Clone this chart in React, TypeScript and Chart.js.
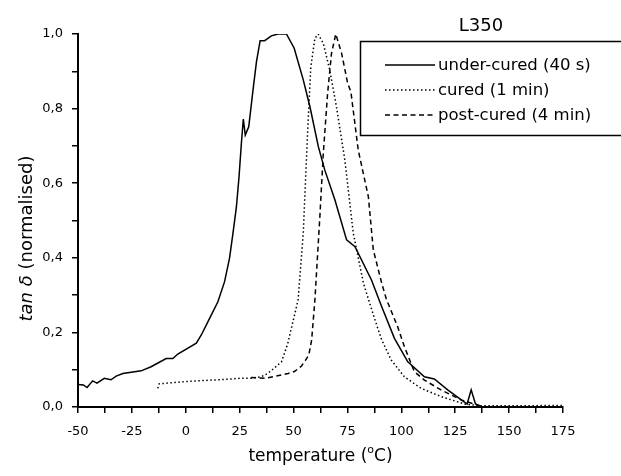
import React, { useEffect, useRef } from "react";
import { Chart, registerables } from "chart.js";

Chart.register(...registerables);

// ---- Data ----
const underCuredT = [-50, -47.5, -45.8, -43.2, -41.2, -37.8, -34.7, -32.3, -29.2, -20.7, -16.1, -9.1, -6, -3.7, 4.9, 7.2, 10.3, 14.9, 18, 20.3, 21.9, 23.5, 24.7, 25.8, 26.7, 27.6, 29.2, 31.2, 32.8, 34.5, 36.6, 39.7, 42.8, 46.7, 50.3, 54.5, 57.6, 61.5, 64.5, 69.2, 74.6, 78.5, 86.2, 90.9, 96.8, 103, 110.7, 115.3, 121.5, 130.5, 132.4, 134.4, 137.8, 147];
const underCuredV = [0.06, 0.059, 0.052, 0.07, 0.064, 0.077, 0.073, 0.083, 0.09, 0.097, 0.108, 0.13, 0.13, 0.142, 0.171, 0.193, 0.229, 0.282, 0.336, 0.399, 0.466, 0.537, 0.617, 0.707, 0.772, 0.729, 0.751, 0.85, 0.926, 0.982, 0.982, 0.995, 1.0, 1.0, 0.962, 0.877, 0.805, 0.698, 0.635, 0.555, 0.448, 0.43, 0.34, 0.269, 0.184, 0.121, 0.081, 0.075, 0.046, 0.008, 0.046, 0.008, 0.0, 0.0];

const curedT = [-13, -12.4, -5, 5, 15, 25.6, 30.3, 35, 38, 41, 44.4, 47.3, 52.1, 54.5, 56.5, 58, 59.9, 61.4, 63.8, 66.8, 69.9, 73.8, 77.7, 82.4, 87.8, 90.9, 95.3, 101.4, 109.2, 118.4, 129.3, 137, 175];
const curedV = [0.05, 0.062, 0.066, 0.07, 0.073, 0.077, 0.077, 0.081, 0.09, 0.104, 0.121, 0.17, 0.287, 0.466, 0.734, 0.912, 0.988, 1.0, 0.975, 0.903, 0.805, 0.662, 0.466, 0.332, 0.233, 0.18, 0.126, 0.081, 0.05, 0.028, 0.008, 0.003, 0.004];

const postCuredT = [30.3, 36.5, 40.5, 47.5, 50.4, 53.7, 55.5, 57.1, 58.4, 59.9, 62.2, 63.8, 65.8, 67.6, 69.6, 72.3, 75.1, 76.6, 80, 84.7, 87, 90.9, 93, 98.3, 101.4, 106, 110.7, 118.4, 127.7, 135.5, 137];
const postCuredV = [0.079, 0.077, 0.081, 0.09, 0.095, 0.11, 0.125, 0.14, 0.18, 0.287, 0.51, 0.68, 0.841, 0.948, 1.0, 0.948, 0.868, 0.845, 0.689, 0.564, 0.421, 0.332, 0.29, 0.215, 0.162, 0.095, 0.072, 0.046, 0.019, 0.005, 0.0];

const seriesLabels = ["under-cured (40 s)", "cured (1 min)", "post-cured (4 min)"];
const chartTitle = "L350";
const xMin = -50, xMax = 175, xStep = 12.5, xLabelStep = 25;
const yMin = 0, yMax = 1, yStep = 0.1;

const FONT = "'DejaVu Sans', sans-serif";
const dashes: number[][] = [[], [1.5, 2.5], [5, 3.5]];

const toPts = (xs: number[], ys: number[]) => xs.map((x, i) => ({ x, y: ys[i] }));

const overlayPlugin = {
  id: "overlay",
  afterDraw(chart: any) {
    const ctx = chart.ctx as CanvasRenderingContext2D;
    const area = chart.chartArea;
    ctx.save();
    ctx.fillStyle = "#000";
    ctx.strokeStyle = "#000";

    // title
    ctx.font = `18px ${FONT}`;
    ctx.textAlign = "center";
    ctx.textBaseline = "alphabetic";
    ctx.fillText(chartTitle, 481, 31);

    // legend box
    ctx.lineWidth = 1.5;
    ctx.setLineDash([]);
    ctx.strokeRect(360.5, 41.5, 270, 94);
    ctx.font = `16.5px ${FONT}`;
    ctx.textAlign = "left";
    ctx.textBaseline = "middle";
    const rows = [65, 90, 115];
    chart.data.datasets.forEach((ds: any, i: number) => {
      const y = rows[i];
      ctx.beginPath();
      ctx.setLineDash(ds.borderDash || []);
      ctx.lineWidth = 1.5;
      ctx.moveTo(385, y);
      ctx.lineTo(435, y);
      ctx.stroke();
      ctx.setLineDash([]);
      ctx.fillText(ds.label, 438, y + 1);
    });

    // x title with superscript o
    ctx.textBaseline = "alphabetic";
    ctx.textAlign = "left";
    ctx.font = `17px ${FONT}`;
    const p1 = "temperature (";
    const p3 = "C)";
    const w1 = ctx.measureText(p1).width;
    const w3 = ctx.measureText(p3).width;
    ctx.font = `11px ${FONT}`;
    const w2 = ctx.measureText("o").width;
    const total = w1 + w2 + w3;
    const cx = (area.left + area.right) / 2;
    const x0 = cx - total / 2;
    const by = 461;
    ctx.font = `17px ${FONT}`;
    ctx.fillText(p1, x0, by);
    ctx.font = `11px ${FONT}`;
    ctx.fillText("o", x0 + w1, by - 8);
    ctx.font = `17px ${FONT}`;
    ctx.fillText(p3, x0 + w1 + w2, by);

    // y title rotated
    ctx.translate(27, (area.top + area.bottom) / 2 + 18);
    ctx.rotate(-Math.PI / 2);
    ctx.textBaseline = "middle";
    ctx.font = `italic 18px ${FONT}`;
    const a = "tan \u03b4";
    const wa = ctx.measureText(a).width;
    ctx.font = `18px ${FONT}`;
    const b = " (normalised)";
    const wb = ctx.measureText(b).width;
    const sx = -(wa + wb) / 2;
    ctx.font = `italic 18px ${FONT}`;
    ctx.fillText(a, sx, 0);
    ctx.font = `18px ${FONT}`;
    ctx.fillText(b, sx + wa, 0);
    ctx.restore();
  },
};

export default function App() {
  const ref = useRef<HTMLCanvasElement | null>(null);
  useEffect(() => {
    if (!ref.current) return;
    const mk = (label: string, xs: number[], ys: number[], dash: number[]) => ({
      label,
      data: toPts(xs, ys),
      borderColor: "#000",
      backgroundColor: "#000",
      borderWidth: 1.5,
      borderDash: dash,
      pointRadius: 0,
      tension: 0,
      fill: false,
    });
    const chart = new Chart(ref.current, {
      type: "line",
      data: {
        datasets: [
          mk(seriesLabels[0], underCuredT, underCuredV, dashes[0]),
          mk(seriesLabels[1], curedT, curedV, dashes[1]),
          mk(seriesLabels[2], postCuredT, postCuredV, dashes[2]),
        ],
      },
      options: {
        animation: false,
        responsive: false,
        layout: { padding: { left: 0, right: 58, top: 34, bottom: 0 } },
        plugins: { legend: { display: false }, tooltip: { enabled: false }, title: { display: false } },
        scales: {
          x: {
            type: "linear",
            min: xMin,
            max: xMax,
            afterFit: (s: any) => { s.height = 69; },
            afterBuildTicks: (s: any) => {
              const t = [];
              for (let v = xMin; v <= xMax + 1e-9; v += xStep) t.push({ value: v });
              s.ticks = t;
            },
            ticks: {
              autoSkip: false,
              maxRotation: 0,
              padding: 11,
              color: "#000",
              font: { family: FONT, size: 13 },
              callback: (v: any) => (Math.abs(v % xLabelStep) < 1e-6 ? String(v) : ""),
            },
            grid: { display: true, drawOnChartArea: false, drawTicks: true, tickLength: 6, color: "#000", lineWidth: 1.5 },
            border: { display: true, color: "#000", width: 2 },
          },
          y: {
            type: "linear",
            min: yMin,
            max: yMax,
            afterFit: (s: any) => { s.width = 78; },
            afterBuildTicks: (s: any) => {
              const t = [];
              for (let i = 0; i <= 10; i++) t.push({ value: +(yMin + i * yStep).toFixed(2) });
              s.ticks = t;
            },
            ticks: {
              autoSkip: false,
              padding: 9,
              color: "#000",
              font: { family: FONT, size: 13 },
              callback: (v: any) => {
                const k = Math.round(v * 10);
                return k % 2 === 0 ? (k / 10).toFixed(1).replace(".", ",") : "";
              },
            },
            grid: { display: true, drawOnChartArea: false, drawTicks: true, tickLength: 6, color: "#000", lineWidth: 1.5 },
            border: { display: true, color: "#000", width: 2 },
          },
        },
      } as any,
      plugins: [overlayPlugin],
    });
    return () => chart.destroy();
  }, []);
  return (
    <div style={{ position: "absolute", left: 0, top: 0, width: 621, height: 476, background: "#fff" }}>
      <canvas ref={ref} width={621} height={476} style={{ width: 621, height: 476, display: "block" }} />
    </div>
  );
}
